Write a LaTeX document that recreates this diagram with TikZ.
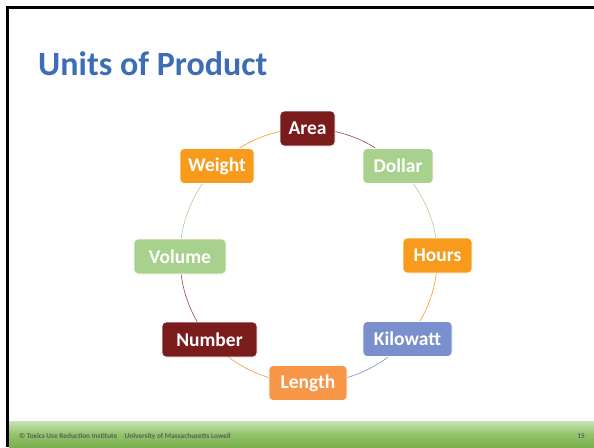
\documentclass[tikz,border=0pt]{standalone}
\usepackage{fontspec}
\setmainfont{Carlito}
\usetikzlibrary{backgrounds}
\definecolor{cdred}{HTML}{7B1C1C}
\definecolor{corange}{HTML}{F89A1C}
\definecolor{cgreen}{HTML}{A9D18E}
\definecolor{cblue}{HTML}{7A8FCD}
\definecolor{clorange}{HTML}{F79646}
\definecolor{ctitle}{HTML}{3D6DB5}
\definecolor{cfoottop}{HTML}{C9E2B5}
\definecolor{cfootmid}{HTML}{93C46A}
\definecolor{cfootbot}{HTML}{7AAF4E}
\definecolor{cfoottext}{HTML}{5E5E5E}
\tikzset{
  unitbox/.style={draw=white, line width=0.8pt, rounded corners=4pt, text=white,
    font=\fontsize{19.5}{21}\selectfont\bfseries, minimum height=35pt, inner sep=0pt},
  ring/.style={line width=0.6pt, looseness=0.885},
}
\begin{document}
\begin{tikzpicture}[x=1pt,y=-1pt]
\useasboundingbox (0,0) rectangle (594,447);
% footer bar
\shade[top color=cfoottop, bottom color=cfootbot, middle color=cfootmid] (9,421) rectangle (594,447);
% frame
\draw[line width=2.6pt, black] (7.5,447) -- (7.5,7.5) -- (594,7.5);
% title
\node[anchor=base west, inner sep=0pt, text=ctitle, font=\fontsize{34}{38}\selectfont\bfseries] (title) at (38,75) {Units of Product};
% footer texts
\node[anchor=base west, inner sep=0pt, text=cfoottext, font=\fontsize{7.3}{8}\selectfont\bfseries] (foot) at (19,438) {© Toxics Use Reduction Institute\quad University of Massachusetts Lowell};
\node[anchor=base, inner sep=0pt, text=cfoottext, font=\fontsize{7.3}{8}\selectfont\bfseries] (page) at (581,438) {15};
% nodes
\node[unitbox, fill=cdred, minimum width=55pt] (area) at (307.5,128.5) {Area};
\node[unitbox, fill=cgreen, minimum width=70pt] (dollar) at (398,166) {Dollar};
\node[unitbox, fill=corange, minimum width=69pt] (hours) at (437.5,255.5) {Hours};
\node[unitbox, fill=cblue, minimum width=89pt] (kilowatt) at (407.5,339) {Kilowatt};
\node[unitbox, fill=clorange, minimum width=78pt] (length) at (308,383) {Length};
\node[unitbox, fill=cdred, minimum width=95pt] (number) at (209.5,339.5) {Number};
\node[unitbox, fill=cgreen, minimum width=92pt] (volume) at (180,256.5) {Volume};
\node[unitbox, fill=corange, minimum width=74pt] (weight) at (217,166) {Weight};
% ring arcs
\begin{pgfonlayer}{background}
\draw[ring, cdred!80] (area.center) to[bend left=22.5] (dollar.center);
\draw[ring, cgreen] (dollar.center) to[bend left=22.5] (hours.center);
\draw[ring, corange] (hours.center) to[bend left=20] (kilowatt.center);
\draw[ring, cblue] (kilowatt.center) to[bend left=25] (length.center);
\draw[ring, clorange] (length.center) to[bend left=25] (number.center);
\draw[ring, cdred!80] (number.center) to[bend left=20] (volume.center);
\draw[ring, cgreen] (volume.center) to[bend left=22.5] (weight.center);
\draw[ring, corange] (weight.center) to[bend left=22.5] (area.center);
\end{pgfonlayer}
\end{tikzpicture}
\end{document}
